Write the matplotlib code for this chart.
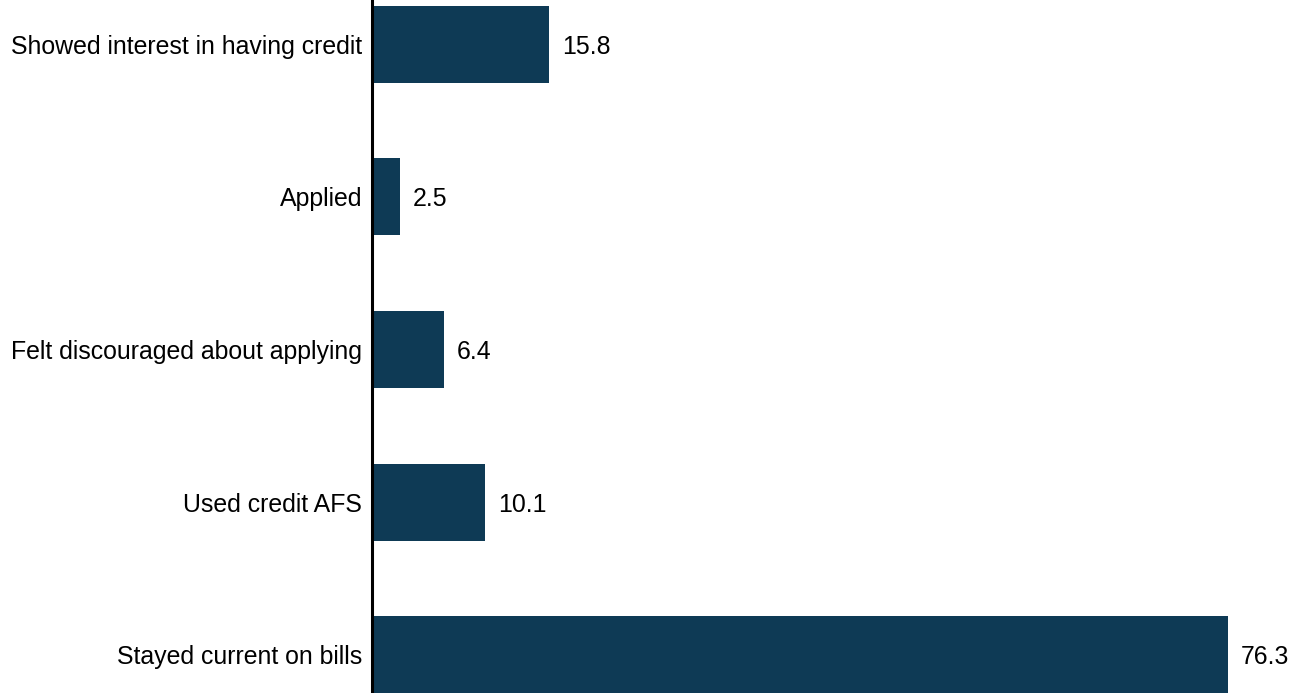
import matplotlib.pyplot as plt

categories = ["Showed interest in having credit", "Applied", "Felt discouraged about applying",
              "Used credit AFS", "Stayed current on bills"]
values = [15.8, 2.5, 6.4, 10.1, 76.3]

plt.rcParams['font.family'] = ['Liberation Sans', 'DejaVu Sans']

fig = plt.figure(figsize=(13.09, 6.93), dpi=100)
ax = fig.add_axes([372 / 1309, 0, 937 / 1309, 1])

pos = list(range(len(categories)))
ax.barh(pos, values, height=0.505, color='#0e3a55')
for p, v in zip(pos, values):
    ax.text(v + 1.15, p, f"{v}", va='center_baseline', ha='left', fontsize=17.9)

ax.set_yticks(pos)
ax.set_yticklabels(categories, fontsize=17.9, va='center_baseline')
ax.tick_params(axis='y', length=0, pad=7)
ax.set_xticks([])
ax.set_xlim(0, 937 / 11.22)
ax.set_ylim(4.25, -0.29)
for s in ['top', 'right', 'bottom']:
    ax.spines[s].set_visible(False)
ax.spines['left'].set_linewidth(2.2)
ax.spines['left'].set_color('black')

fig.savefig('out.png', dpi=100)
